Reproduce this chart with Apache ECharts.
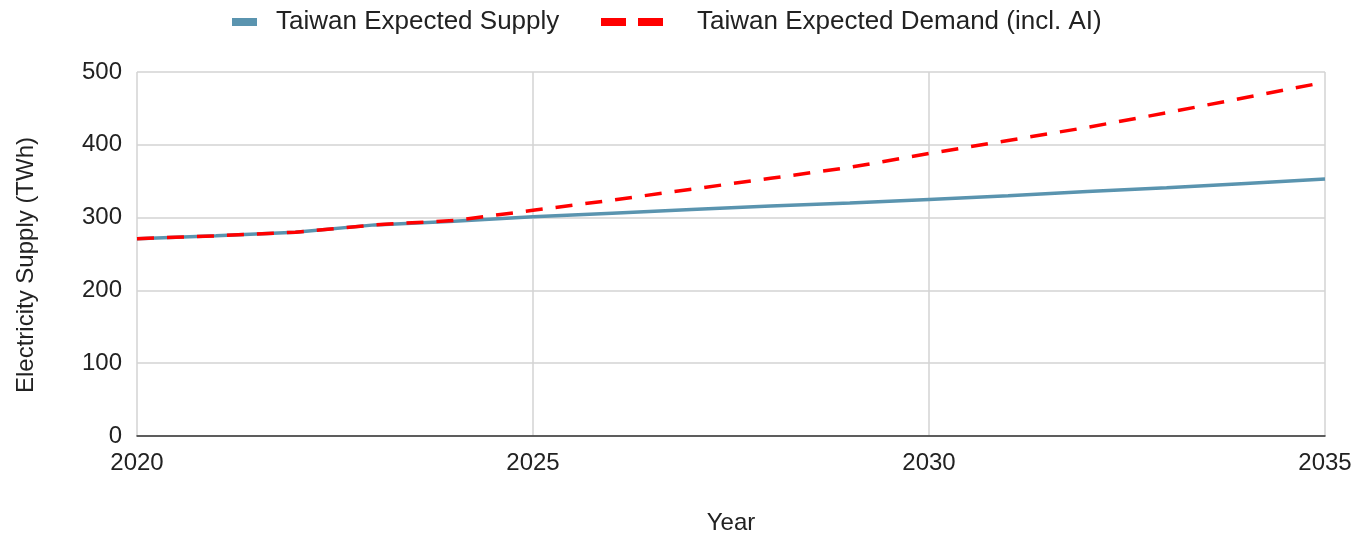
<!DOCTYPE html>
<html>
<head>
<meta charset="utf-8">
<script src="https://cdn.jsdelivr.net/npm/echarts@6/dist/echarts.min.js"></script>
<style>
html,body{margin:0;padding:0;background:#fff;}
#chart{width:1355px;height:533px;}
</style>
</head>
<body>
<div id="chart"></div>
<script>
const years = [2020, 2021, 2022, 2023, 2024, 2025, 2026, 2027, 2028, 2029, 2030, 2031, 2032, 2033, 2034, 2035];
const supplyValues = [271, 275, 280, 290, 295, 301, 306, 311, 316, 320, 325, 330, 336, 341, 347, 353];
const demandValues = [271, 275, 280, 290, 296, 310, 324, 339, 354, 369, 388, 406, 424, 444, 465, 486];
const xTicks = [2020, 2025, 2030, 2035];
const yTicks = [0, 100, 200, 300, 400, 500];
const supplyName = 'Taiwan Expected Supply';
const demandName = 'Taiwan Expected Demand (incl. AI)';

const font = 'Liberation Sans, Arial, sans-serif';
const chart = echarts.init(document.getElementById('chart'), null, {renderer: 'canvas'});
chart.setOption({
  animation: false,
  backgroundColor: '#ffffff',
  legend: [
    {
      top: 4, left: 227,
      data: [{name: supplyName, icon: 'rect'}],
      itemWidth: 25, itemHeight: 8,
      textStyle: {fontFamily: font, fontSize: 26, color: '#222', padding: [0, 0, 0, 14]}
    },
    {
      top: 4, left: 596,
      data: [{name: demandName, icon: 'path://M0,0H25V8H0Z M37,0H62V8H37Z'}],
      itemWidth: 62, itemHeight: 8,
      textStyle: {fontFamily: font, fontSize: 26, color: '#222', padding: [0, 0, 0, 29]}
    }
  ],
  grid: {left: 137, right: 30, top: 72, bottom: 97, containLabel: false, outerBoundsMode: 'none'},
  xAxis: {
    type: 'value', min: 2020, max: 2035, interval: 5,
    name: 'Year', nameLocation: 'middle', nameGap: 75,
    nameTextStyle: {fontFamily: font, fontSize: 24, color: '#222'},
    axisLine: {show: true, lineStyle: {color: '#333', width: 1.5}},
    axisTick: {show: false},
    axisLabel: {fontFamily: font, fontSize: 24, color: '#222', margin: 15, formatter: v => xTicks.includes(v) ? String(v) : ''},
    splitLine: {show: true, lineStyle: {color: '#d3d3d3', width: 1.5}}
  },
  yAxis: {
    type: 'value', min: yTicks[0], max: yTicks[yTicks.length - 1], interval: 100,
    name: 'Electricity Supply (TWh)', nameLocation: 'middle', nameGap: 99,
    nameTextStyle: {fontFamily: font, fontSize: 24, color: '#222', padding: [0, 0, 0, -22]},
    axisLine: {show: false},
    axisTick: {show: false},
    axisLabel: {fontFamily: font, fontSize: 24, color: '#222', margin: 15},
    splitLine: {show: true, lineStyle: {color: '#d3d3d3', width: 1.5}}
  },
  series: [
    {
      name: supplyName, type: 'line', showSymbol: false, symbol: 'none',
      data: years.map((y, i) => [y, supplyValues[i]]),
      itemStyle: {color: '#5a94af'},
      lineStyle: {color: '#5a94af', width: 3.5},
      z: 2
    },
    {
      name: demandName, type: 'line', showSymbol: false, symbol: 'none',
      data: years.map((y, i) => [y, demandValues[i]]),
      itemStyle: {color: '#ff0000'},
      lineStyle: {color: '#ff0000', width: 3.5, type: [17, 13]},
      z: 3
    }
  ]
});
</script>
</body>
</html>
